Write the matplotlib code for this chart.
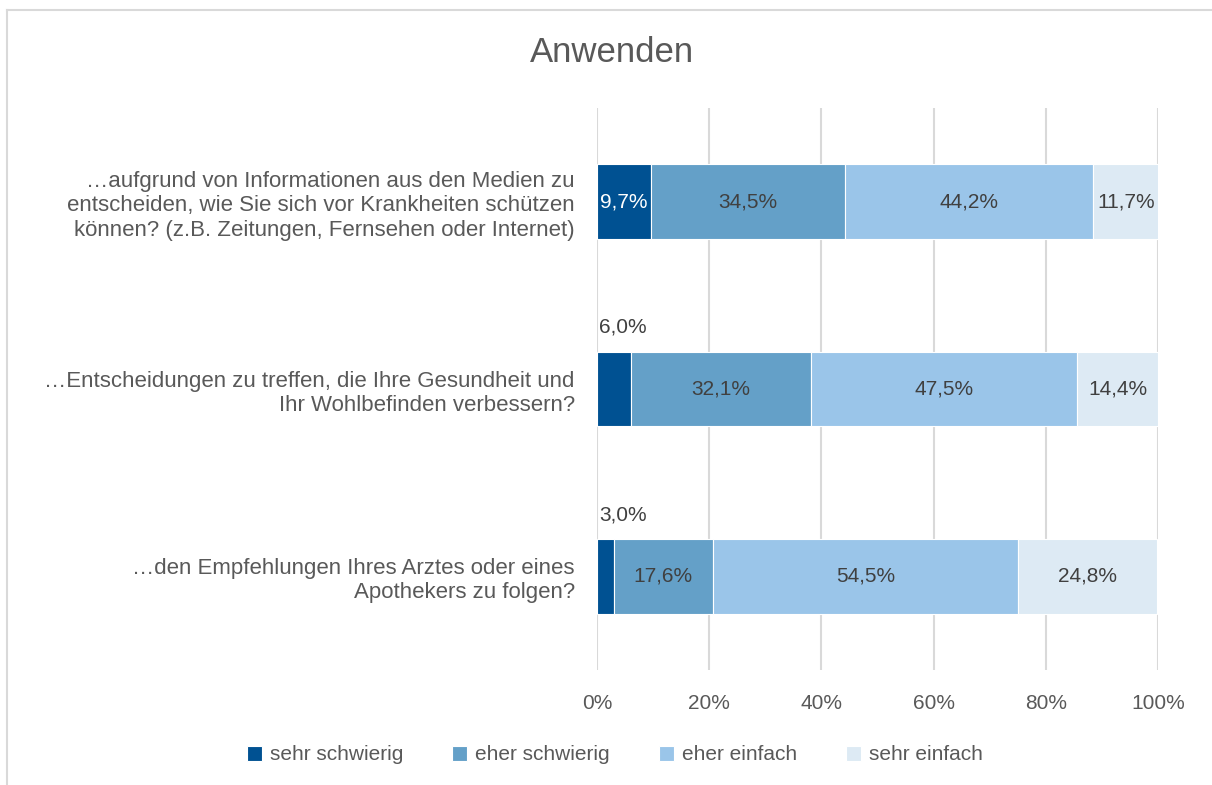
import numpy as np
import matplotlib.pyplot as plt
from matplotlib.lines import Line2D

plt.rcParams['font.family'] = ['Liberation Sans', 'DejaVu Sans']

# Daten
fragen = [
    "…aufgrund von Informationen aus den Medien zu\nentscheiden, wie Sie sich vor Krankheiten schützen\nkönnen? (z.B. Zeitungen, Fernsehen oder Internet)",
    "…Entscheidungen zu treffen, die Ihre Gesundheit und\nIhr Wohlbefinden verbessern?",
    "…den Empfehlungen Ihres Arztes oder eines\nApothekers zu folgen?",
]
kategorien = ["sehr schwierig", "eher schwierig", "eher einfach", "sehr einfach"]
sehr_schwierig = [9.7, 6.0, 3.0]
eher_schwierig = [34.5, 32.1, 17.6]
eher_einfach = [44.2, 47.5, 54.5]
sehr_einfach = [11.7, 14.4, 24.8]
ticks = [0, 20, 40, 60, 80, 100]

farben = ["#005192", "#64A0C8", "#9AC5E9", "#DDEAF4"]
textfarben = ["white", "#404040", "#404040", "#404040"]
grau = "#595959"

fig = plt.figure(figsize=(12.12, 7.85), dpi=100)
ax = fig.add_axes([597/1212, 1-670/785, 561/1212, 562/785])

# Rahmen (nur oben und links sichtbar)
fig.add_artist(Line2D([6.5/1212, 1], [1-9.5/785]*2, color="#D9D9D9", lw=1.5))
fig.add_artist(Line2D([6.5/1212]*2, [0, 1-9.5/785], color="#D9D9D9", lw=1.5))

y = np.arange(len(fragen))
serien = [sehr_schwierig, eher_schwierig, eher_einfach, sehr_einfach]
links = np.zeros(len(fragen))
for i, werte in enumerate(serien):
    werte = np.array(werte)
    ax.barh(y, werte, left=links, height=0.4, color=farben[i],
            edgecolor="white", linewidth=0.8, label=kategorien[i], zorder=3)
    for j, w in enumerate(werte):
        txt = f"{w:.1f}%".replace(".", ",")
        if w < 8:
            # kleine Werte über dem Balken
            ax.text(0.4, y[j] - 0.33, txt, ha="left", va="center",
                    fontsize=15, color="#404040")
        else:
            ax.text(links[j] + w/2, y[j], txt, ha="center", va="center",
                    fontsize=15, color=textfarben[i], zorder=4)
    links += werte

ax.set_xlim(0, 100)
ax.set_ylim(2.5, -0.5)
ax.set_xticks(ticks)
ax.set_xticklabels([f"{t}%" for t in ticks])
ax.set_yticks(y)
ax.set_yticklabels(fragen, fontsize=16, color=grau, linespacing=1.22)
ax.tick_params(axis="x", colors=grau, labelsize=15, length=0, pad=17)
ax.tick_params(axis="y", length=0, pad=16)
ax.grid(axis="x", color="#D9D9D9", linewidth=1.5, zorder=0)
for s in ax.spines.values():
    s.set_visible(False)

fig.text(612/1212, 1-52/785, "Anwenden", ha="center", va="center",
         fontsize=25, color=grau)

fig.legend(loc="center", bbox_to_anchor=(615/1212, 1-755/785), ncol=4,
           frameon=False, fontsize=15, labelcolor=grau, handlelength=0.7,
           handleheight=0.7, handletextpad=0.4, columnspacing=2.35)

fig.savefig("out.png", dpi=100)
